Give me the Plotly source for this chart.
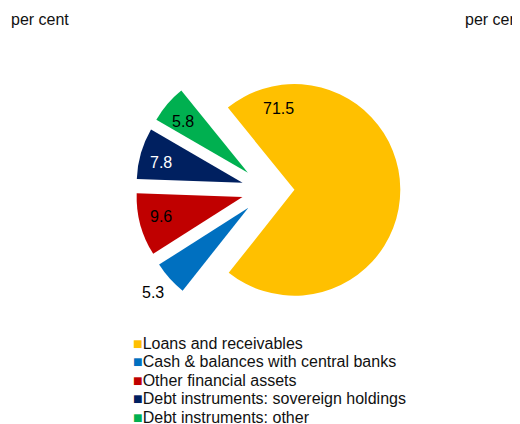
import plotly.graph_objects as go

# data
categories = [
    "Loans and receivables",
    "Cash & balances with central banks",
    "Other financial assets",
    "Debt instruments: sovereign holdings",
    "Debt instruments: other",
]
shares = [71.5, 5.3, 9.6, 7.8, 5.8]
colors = ["#FFC000", "#0070C0", "#C00000", "#002060", "#00B050"]

# layout helpers: positions are given in screen pixels, the page adds an 8px body margin
W, H = 520, 424
OFF = 8
FONT = "Liberation Sans, Arial, sans-serif"
FS = 16


def fx(x):
    return (x - OFF) / W


def fy(y):
    return 1 - (y - OFF) / H


label_xy = [(278, 108.5), (152.5, 292), (161, 216.5), (161, 162.5), (182.5, 121)]
label_colors = ["black", "black", "black", "white", "black"]

fig = go.Figure()
fig.add_trace(go.Pie(
    labels=categories,
    values=shares,
    sort=False,
    direction="clockwise",
    rotation=-39,
    pull=[0.25] * len(shares),
    marker=dict(colors=colors, line=dict(width=0)),
    textinfo="none",
    hoverinfo="label+value",
    showlegend=False,
    domain=dict(x=[fx(135.7), fx(400.3)], y=[fy(322.3), fy(57.7)]),
))

annotations = []
for v, (lx, ly), c in zip(shares, label_xy, label_colors):
    annotations.append(dict(
        x=fx(lx), y=fy(ly), xref="paper", yref="paper",
        text=f"{v:.1f}", showarrow=False, xanchor="center", yanchor="middle",
        font=dict(family=FONT, size=FS, color=c),
    ))

# legend drawn as text rows
for i, (name, c) in enumerate(zip(categories, colors)):
    annotations.append(dict(
        x=fx(131), y=fy(343 + i * 18.5), xref="paper", yref="paper",
        text=f"<span style='color:{c}'>■</span>{name}",
        showarrow=False, xanchor="left", yanchor="middle",
        font=dict(family=FONT, size=FS, color="#111111"),
    ))

# unit labels
for ux in (9, 463):
    annotations.append(dict(
        x=fx(ux), y=fy(20), xref="paper", yref="paper",
        text="per cent", showarrow=False, xanchor="left", yanchor="middle",
        font=dict(family=FONT, size=FS, color="#111111"),
    ))

fig.update_layout(
    width=W,
    height=H,
    margin=dict(l=0, r=0, t=0, b=0),
    paper_bgcolor="white",
    plot_bgcolor="white",
    annotations=annotations,
)

fig.write_html("out.html")
